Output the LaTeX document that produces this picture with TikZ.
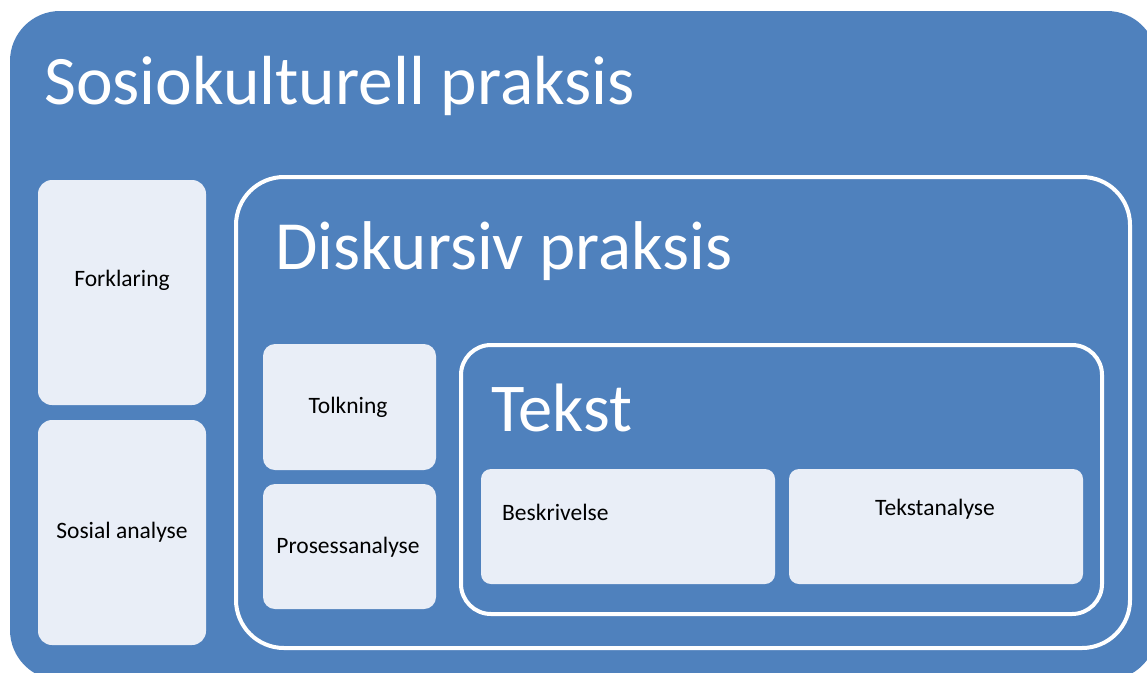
\documentclass[tikz,border=0pt]{standalone}
\usepackage{fontspec}
\setmainfont{Carlito}
\definecolor{officeblue}{HTML}{4F81BD}
\definecolor{lightfill}{HTML}{E9EEF7}
\tikzset{
  lightbox/.style={rectangle, fill=lightfill, rounded corners=14pt, inner sep=0pt},
  framebox/.style={rectangle, draw=white, line width=4pt, fill=officeblue, inner sep=0pt},
  bigtitle/.style={text=white, anchor=base west, inner sep=0pt, font=\fontsize{69.5}{72}\selectfont},
  smalllabel/.style={text=black, inner sep=0pt, font=\fontsize{23.5}{26}\selectfont}
}
\begin{document}
\begin{tikzpicture}[x=1pt,y=-1pt]
\useasboundingbox (0,0) rectangle (1147,672);
\clip (0,0) rectangle (1147,672);
\fill[white] (0,0) rectangle (1147,672);
% outer box
\node[rectangle, fill=officeblue, rounded corners=50pt, minimum width=1147pt, minimum height=669pt, inner sep=0pt] (outer) at (583.5,345.5) {};
\node[bigtitle] (t1) at (44,104) {Sosiokulturell praksis};
% left column
\node[lightbox, minimum width=168pt, minimum height=225pt] (forkl) at (122,292.5) {};
\node[smalllabel, anchor=base] (forkltxt) at (122,286) {Forklaring};
\node[lightbox, minimum width=168pt, minimum height=225pt] (sosial) at (122,532.5) {};
\node[smalllabel, anchor=base] (sosialtxt) at (122,538) {Sosial analyse};
% diskursiv praksis frame
\node[framebox, rounded corners=48pt, minimum width=894pt, minimum height=471pt] (disk) at (683,412.5) {};
\node[bigtitle, font=\fontsize{69}{72}\selectfont] (t2) at (275,269) {Diskursiv praksis};
\node[lightbox, rounded corners=12pt, minimum width=173pt, minimum height=126pt] (tolk) at (349.5,407) {};
\node[smalllabel, anchor=base] (tolktxt) at (348,413) {Tolkning};
\node[lightbox, rounded corners=12pt, minimum width=173pt, minimum height=125pt] (pros) at (349.5,546.5) {};
\node[smalllabel, anchor=base] (prostxt) at (348,553) {Prosessanalyse};
% tekst frame
\node[framebox, rounded corners=30pt, minimum width=641pt, minimum height=269pt] (tekst) at (781.5,479.5) {};
\node[bigtitle, font=\fontsize{68.5}{72}\selectfont] (t3) at (491,431) {Tekst};
\node[lightbox, rounded corners=10pt, minimum width=294pt, minimum height=115pt] (beskr) at (628,526.5) {};
\node[smalllabel, anchor=base west] (beskrtxt) at (502,520) {Beskrivelse};
\node[lightbox, rounded corners=10pt, minimum width=294pt, minimum height=115pt] (tana) at (936,526.5) {};
\node[smalllabel, anchor=base] (tanatxt) at (935,515) {Tekstanalyse};
\end{tikzpicture}
\end{document}
